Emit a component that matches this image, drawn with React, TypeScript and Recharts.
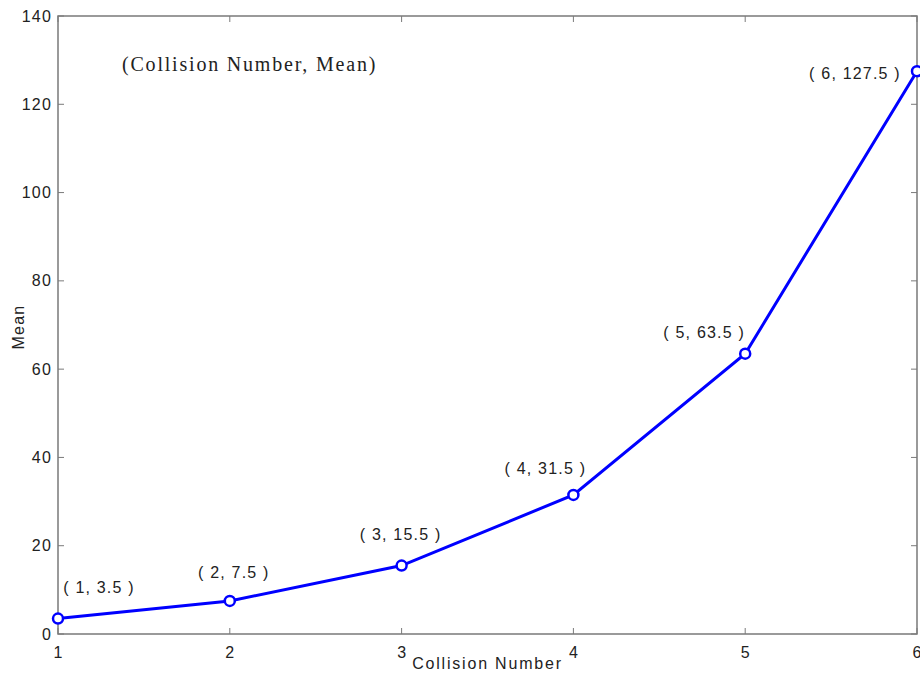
import React from "react";
import {
  LineChart,
  Line,
  XAxis,
  YAxis,
  ReferenceArea,
  LabelList,
} from "recharts";

const collisionNumbers = [1, 2, 3, 4, 5, 6];
const meanValues = [3.5, 7.5, 15.5, 31.5, 63.5, 127.5];
const pointLabels = ["( 1, 3.5 )", "( 2, 7.5 )", "( 3, 15.5 )", "( 4, 31.5 )", "( 5, 63.5 )", "( 6, 127.5 )"];
const xTicks = [1, 2, 3, 4, 5, 6];
const yTicks = [0, 20, 40, 60, 80, 100, 120, 140];

const data = collisionNumbers.map((c, i) => ({ x: c, mean: meanValues[i], label: pointLabels[i] }));

// styling / layout
const W = 920;
const H = 679;
const Y_AXIS_W = 58;
const X_AXIS_H = 45;
const M = { top: 16, right: 3, left: 0, bottom: 0 };
const PLOT_LEFT = Y_AXIS_W;
const PLOT_RIGHT = W - M.right;
const PLOT_TOP = M.top;
const PLOT_BOTTOM = H - X_AXIS_H;
const TICK_LEN = 6;
const AXIS_COLOR = "#7a7a7a";
const TEXT_COLOR = "#222222";
const FONT = "'Liberation Sans', Arial, sans-serif";
const labelOffsets = [
  { dx: 41, dy: -31 },
  { dx: 4, dy: -28 },
  { dx: -1, dy: -31 },
  { dx: -28, dy: -26 },
  { dx: -41, dy: -21 },
  { dx: -62, dy: 2 },
];

const YTick = (props: any) => {
  const { y, payload } = props;
  return (
    <g>
      <line x1={PLOT_LEFT} y1={y} x2={PLOT_LEFT + TICK_LEN} y2={y} stroke={AXIS_COLOR} />
      <line x1={PLOT_RIGHT - TICK_LEN} y1={y} x2={PLOT_RIGHT} y2={y} stroke={AXIS_COLOR} />
      <text
        x={PLOT_LEFT - 6}
        y={y}
        textAnchor="end"
        dominantBaseline="central"
        fontSize={16}
        letterSpacing={1.2}
        fill={TEXT_COLOR}
        fontFamily={FONT}
      >
        {payload.value}
      </text>
    </g>
  );
};

const XTick = (props: any) => {
  const { x, payload } = props;
  return (
    <g>
      <line x1={x} y1={PLOT_BOTTOM} x2={x} y2={PLOT_BOTTOM - TICK_LEN} stroke={AXIS_COLOR} />
      <line x1={x} y1={PLOT_TOP} x2={x} y2={PLOT_TOP + TICK_LEN} stroke={AXIS_COLOR} />
      <text
        x={x}
        y={PLOT_BOTTOM + 18}
        textAnchor="middle"
        dominantBaseline="central"
        fontSize={16}
        fill={TEXT_COLOR}
        fontFamily={FONT}
      >
        {payload.value}
      </text>
    </g>
  );
};

const PointLabel = (props: any) => {
  const { x, y, value, index } = props;
  const off = labelOffsets[index] || { dx: 0, dy: -20 };
  return (
    <text
      x={x + off.dx}
      y={y + off.dy}
      textAnchor="middle"
      dominantBaseline="central"
      fontSize={16}
      letterSpacing={1.2}
      fill={TEXT_COLOR}
      fontFamily={FONT}
    >
      {value}
    </text>
  );
};

const XLabel = () => (
  <text
    x={(PLOT_LEFT + PLOT_RIGHT) / 2}
    y={PLOT_BOTTOM + 29}
    textAnchor="middle"
    dominantBaseline="central"
    fontSize={16}
    letterSpacing={1.8}
    fill={TEXT_COLOR}
    fontFamily={FONT}
  >
    Collision Number
  </text>
);

const YLabel = () => {
  const cy = (PLOT_TOP + PLOT_BOTTOM) / 2 + 2;
  return (
    <text
      x={18}
      y={cy}
      transform={`rotate(-90 18 ${cy})`}
      textAnchor="middle"
      dominantBaseline="central"
      fontSize={16}
      letterSpacing={1.2}
      fill={TEXT_COLOR}
      fontFamily={FONT}
    >
      Mean
    </text>
  );
};

const Dot = (props: any) => {
  const { cx, cy } = props;
  return <circle cx={cx} cy={cy} r={5} fill="#ffffff" stroke="#0000ff" strokeWidth={2.5} />;
};

export default function App() {
  return (
    <div style={{ position: "absolute", left: 0, top: 0, width: W, height: H, background: "#fff" }}>
      <LineChart width={W} height={H} data={data} margin={M}>
        <ReferenceArea x1={1} x2={6} y1={0} y2={140} fill="none" stroke={AXIS_COLOR} strokeWidth={1.5} ifOverflow="visible" />
        <XAxis
          dataKey="x"
          type="number"
          domain={[1, 6]}
          ticks={xTicks}
          height={X_AXIS_H}
          tickLine={false}
          axisLine={false}
          tick={<XTick />}
          label={<XLabel />}
          interval={0}
        />
        <YAxis
          type="number"
          domain={[0, 140]}
          ticks={yTicks}
          width={Y_AXIS_W}
          tickLine={false}
          axisLine={false}
          tick={<YTick />}
          label={<YLabel />}
          interval={0}
        />
        <Line
          type="linear"
          dataKey="mean"
          stroke="#0000ff"
          strokeWidth={3}
          dot={<Dot />}
          activeDot={false}
          isAnimationActive={false}
        >
          <LabelList dataKey="label" content={<PointLabel />} />
        </Line>
      </LineChart>
      <div
        style={{
          position: "absolute",
          left: 122,
          top: 51,
          fontFamily: "'Liberation Serif', 'Times New Roman', serif",
          fontSize: 20,
          letterSpacing: 1.8,
          color: TEXT_COLOR,
          whiteSpace: "nowrap",
          lineHeight: "26px",
        }}
      >
        (Collision Number, Mean)
      </div>
    </div>
  );
}
